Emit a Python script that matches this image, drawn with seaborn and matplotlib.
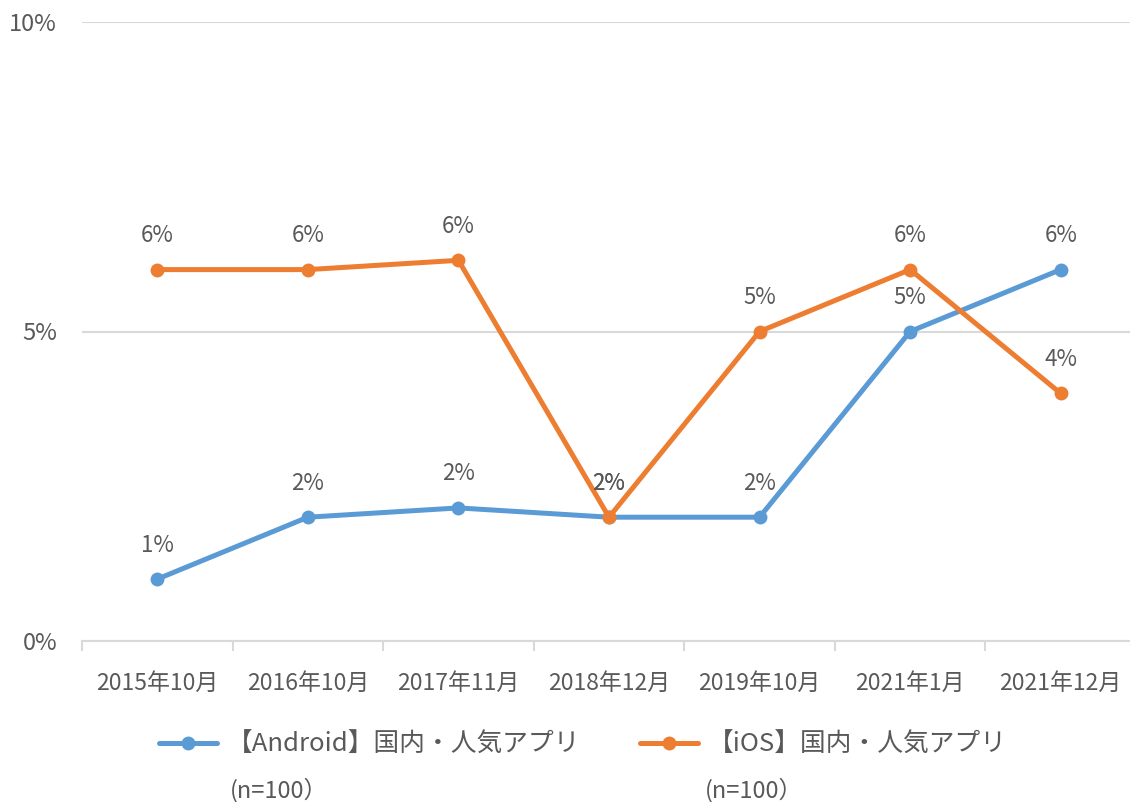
import matplotlib
matplotlib.use("Agg")
import matplotlib.pyplot as plt
from matplotlib.lines import Line2D
import seaborn as sns
import pandas as pd

categories = ["2015年10月", "2016年10月", "2017年11月", "2018年12月", "2019年10月", "2021年1月", "2021年12月"]
android = [1.0, 2.0, 2.15, 2.0, 2.0, 5.0, 6.0]
ios = [6.0, 6.0, 6.15, 2.0, 5.0, 6.0, 4.0]
series_names = ["【Android】国内・人気アプリ", "【iOS】国内・人気アプリ"]
series_note = "(n=100）"
yticks = [0, 5, 10]
ytick_labels = ["0%", "5%", "10%"]

sns.set_theme(style="white")
plt.rcParams["font.family"] = ["Noto Sans CJK JP", "DejaVu Sans"]

TXT = "#595959"
GRID = "#D9D9D9"
colors = ["#5B9BD5", "#ED7D31"]

df = pd.DataFrame({
    "x": list(range(len(categories))) * 2,
    "value": android + ios,
    "series": [series_names[0]] * len(categories) + [series_names[1]] * len(categories),
})

fig = plt.figure(figsize=(11.3, 8.02), dpi=100)
ax = fig.add_axes([82 / 1130, 1 - 641 / 802, 1054 / 1130, (641 - 22) / 802])

sns.lineplot(data=df, x="x", y="value", hue="series", palette=colors, marker="o",
             markersize=10, markeredgewidth=0, linewidth=3.6, ax=ax, legend=False,
             zorder=3)

ax.set_xlim(-0.5, len(categories) - 0.5)
ax.set_ylim(0, 10)
ax.set_yticks(yticks)
ax.set_yticklabels(ytick_labels)
ax.set_xticks(range(len(categories)))
ax.set_xticklabels(categories)
ax.set_xticks([i - 0.5 for i in range(len(categories) + 1)], minor=True)
ax.tick_params(axis="x", which="major", bottom=False, length=0, pad=22, labelsize=16.5, labelcolor=TXT)
ax.tick_params(axis="x", which="minor", bottom=True, length=7, width=1.5, color=GRID, direction="out")
ax.tick_params(axis="y", left=False, length=0, pad=18, labelsize=17, labelcolor=TXT)
ax.set_xlabel("")
ax.set_ylabel("")
for s in ["top", "right", "left"]:
    ax.spines[s].set_visible(False)
ax.spines["bottom"].set_color(GRID)
ax.spines["bottom"].set_linewidth(1.5)
ax.yaxis.grid(True, color=GRID, linewidth=1.5, zorder=0)
ax.xaxis.grid(False)
ax.set_axisbelow(True)

for vals in (android, ios):
    for i, v in enumerate(vals):
        ax.annotate(f"{v:.0f}%", (i, v), xytext=(0, 24.5), textcoords="offset points",
                    ha="center", va="center", fontsize=16, color=TXT, zorder=5)

handles = [Line2D([], [], color=c, linewidth=3.6, marker="o", markersize=10, markeredgewidth=0)
           for c in colors]
fig.legend(handles, series_names, loc="center", bbox_to_anchor=(583 / 1130, 1 - 745 / 802),
           ncol=2, frameon=False, prop={"size": 18.5}, handlelength=2.25, handletextpad=0.4,
           columnspacing=2.3, labelcolor=TXT)
fig.text(230 / 1130, 1 - 790 / 802, series_note, ha="left", va="center", fontsize=17, color=TXT)
fig.text(705 / 1130, 1 - 790 / 802, series_note, ha="left", va="center", fontsize=17, color=TXT)

fig.savefig("out.png", dpi=100)
